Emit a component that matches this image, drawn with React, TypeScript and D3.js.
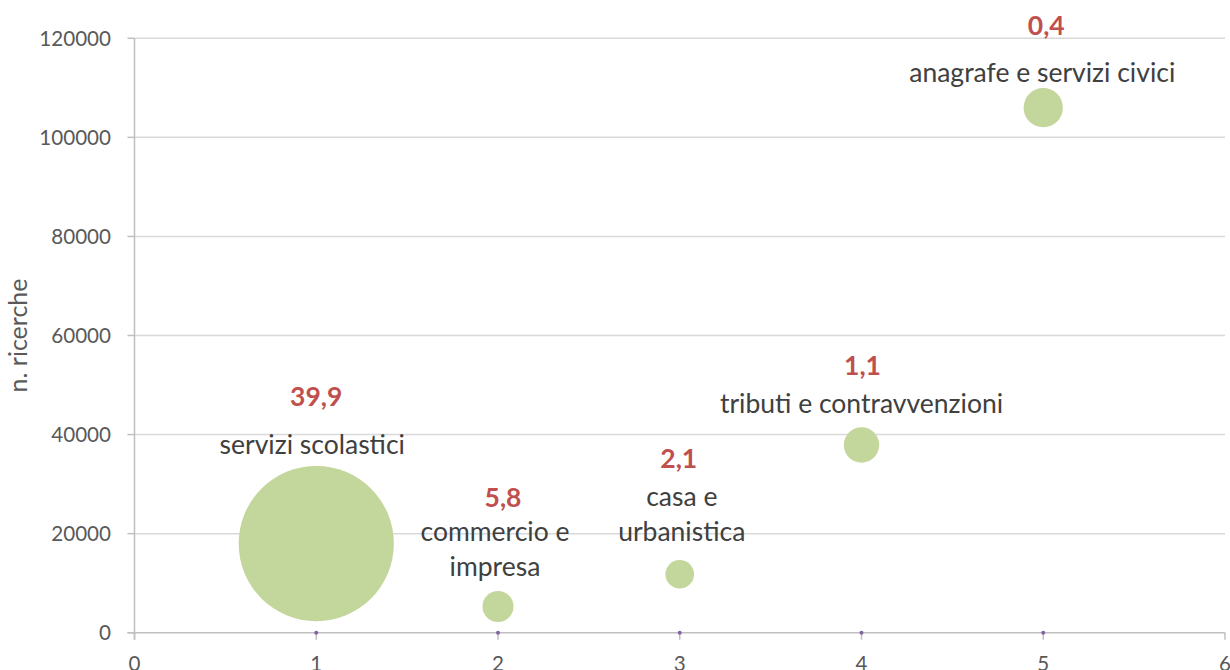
import React from "react";
import * as d3 from "d3";

const categories = [
  ["servizi scolastici"],
  ["commercio e", "impresa"],
  ["casa e", "urbanistica"],
  ["tributi e contravvenzioni"],
  ["anagrafe e servizi civici"],
];
const xValues = [1, 2, 3, 4, 5];
const yValues = [18000, 5300, 11800, 37900, 106000];
const bubbleSizes = [100, 4.0, 3.4, 5.2, 6.4];
const percentLabels = ["39,9", "5,8", "2,1", "1,1", "0,4"];
const xTicks = [0, 1, 2, 3, 4, 5, 6];
const yTicks = [0, 20000, 40000, 60000, 80000, 100000, 120000];

// label layout offsets relative to bubble centre (pixels)
const numberOffsets = [
  { dx: 0, dy: -138 },
  { dx: 5, dy: -99 },
  { dx: -1, dy: -106 },
  { dx: 1, dy: -70 },
  { dx: 3, dy: -73 },
];
const labelOffsets = [
  { dx: -4, dy: -90 },
  { dx: -3, dy: -65 },
  { dx: 2, dy: -68 },
  { dx: 0, dy: -32 },
  { dx: -1, dy: -26 },
];

const W = 1230;
const H = 670;
const margin = { left: 134.5, right: 5, top: 38.3, bottom: 37.3 };
const FONT = "Lato, 'Open Sans', sans-serif";

export default function App() {
  const x = d3
    .scaleLinear()
    .domain([0, 6])
    .range([margin.left, W - margin.right]);
  const y = d3
    .scaleLinear()
    .domain([0, 120000])
    .range([H - margin.bottom, margin.top]);
  const r = d3
    .scaleSqrt()
    .domain([0, d3.max(bubbleSizes) as number])
    .range([0, 77.6]);

  const y0 = y(0);
  return (
    <svg
      width={W}
      height={H}
      style={{ position: "absolute", left: 0, top: 0, background: "#fff" }}
    >
      {/* gridlines */}
      {yTicks.map((t) =>
        t === 0 ? null : (
          <line
            key={"g" + t}
            x1={x(0)}
            x2={x(6)}
            y1={y(t)}
            y2={y(t)}
            stroke="#d9d9d9"
            strokeWidth={1.5}
          />
        )
      )}
      {/* y axis */}
      <line x1={x(0)} x2={x(0)} y1={y(120000)} y2={y0 + 7} stroke="#bfbfbf" strokeWidth={1.5} />
      {yTicks.map((t) => (
        <g key={"yt" + t}>
          <line x1={x(0) - 7} x2={x(0)} y1={y(t)} y2={y(t)} stroke="#bfbfbf" strokeWidth={1.5} />
          <text
            x={111}
            y={y(t)}
            dy="0.35em"
            textAnchor="end"
            fontFamily={FONT}
            fontSize={20.6}
            fill="#595959"
          >
            {t}
          </text>
        </g>
      ))}
      {/* x axis */}
      <line x1={x(0) - 7} x2={x(6)} y1={y0} y2={y0} stroke="#bfbfbf" strokeWidth={1.5} />
      {xTicks.map((t) => (
        <g key={"xt" + t}>
          <line x1={x(t)} x2={x(t)} y1={y0} y2={y0 + 7} stroke="#bfbfbf" strokeWidth={1.5} />
          <text
            x={x(t)}
            y={671}
            textAnchor="middle"
            fontFamily={FONT}
            fontSize={20.6}
            fill="#595959"
          >
            {t}
          </text>
        </g>
      ))}
      {/* small purple markers on the axis */}
      {xValues.map((v) => (
        <circle key={"pm" + v} cx={x(v)} cy={y0} r={2} fill="#8064a2" />
      ))}
      {/* axis title */}
      <text
        transform={`translate(${18},${(y(0) + y(120000)) / 2}) rotate(-90)`}
        textAnchor="middle"
        dy="0.35em"
        fontFamily={FONT}
        fontSize={25}
        fill="#595959"
      >
        n. ricerche
      </text>
      {/* bubbles */}
      {xValues.map((v, i) => (
        <circle
          key={"b" + i}
          cx={x(v)}
          cy={y(yValues[i])}
          r={r(bubbleSizes[i])}
          fill="#c3d69b"
        />
      ))}
      {/* labels */}
      {xValues.map((v, i) => {
        const cx = x(v);
        const cy = y(yValues[i]);
        return (
          <g key={"l" + i}>
            <text
              x={cx + numberOffsets[i].dx}
              y={cy + numberOffsets[i].dy}
              textAnchor="middle"
              fontFamily={FONT}
              fontWeight="bold"
              fontSize={26.5}
              fill="#c0504d"
            >
              {percentLabels[i]}
            </text>
            {categories[i].map((line, j) => (
              <text
                key={j}
                x={cx + labelOffsets[i].dx}
                y={cy + labelOffsets[i].dy + j * 35}
                textAnchor="middle"
                fontFamily={FONT}
                fontSize={26.5}
                fill="#404040"
              >
                {line}
              </text>
            ))}
          </g>
        );
      })}
    </svg>
  );
}
